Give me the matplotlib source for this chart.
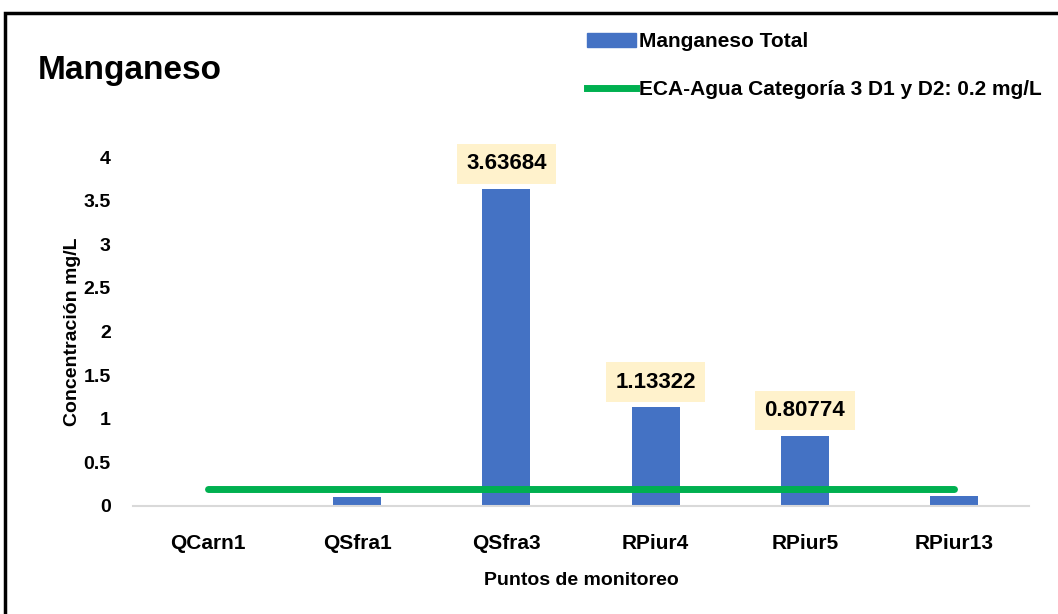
import matplotlib.pyplot as plt
import matplotlib.patches as mpatches
from matplotlib.lines import Line2D

# datos
puntos = ['QCarn1', 'QSfra1', 'QSfra3', 'RPiur4', 'RPiur5', 'RPiur13']
manganeso = [0.0, 0.10, 3.63684, 1.13322, 0.80774, 0.11]
etiquetas = ['', '', '3.63684', '1.13322', '0.80774', '']
eca = [0.2, 0.2, 0.2, 0.2, 0.2, 0.2]

FONT = ['Liberation Sans Narrow', 'Liberation Sans', 'DejaVu Sans']
plt.rcParams['font.family'] = FONT
plt.rcParams['font.weight'] = 'bold'

W, H = 1058, 614
fig = plt.figure(figsize=(W / 100, H / 100), dpi=100)
ax = fig.add_axes([133 / W, 1 - 506 / H, (1029 - 133) / W, (506 - 157) / H])

x = list(range(len(puntos)))
ax.bar(x, manganeso, width=0.32, color='#4472C4', zorder=2)
ax.plot(x, eca, color='#00B050', lw=5, solid_capstyle='round', zorder=3)

for xi, v, t in zip(x, manganeso, etiquetas):
    if t:
        ax.annotate(t, (xi, v), xytext=(0, 25), textcoords='offset pixels',
                    ha='center', va='center', fontsize=16, fontweight='bold',
                    bbox=dict(boxstyle='square,pad=0.42', fc='#FFF2CC', ec='none'),
                    annotation_clip=False)

ax.set_xlim(-0.5, len(puntos) - 0.5)
ax.set_ylim(0, 4)
ax.set_yticks([0, 0.5, 1, 1.5, 2, 2.5, 3, 3.5, 4])
ax.set_yticklabels(['0', '0.5', '1', '1.5', '2', '2.5', '3', '3.5', '4'])
ax.set_xticks(x)
ax.set_xticklabels(puntos)
ax.tick_params(axis='x', length=0, labelsize=15, pad=20)
ax.tick_params(axis='y', length=0, labelsize=14, pad=16)
for s in ['top', 'right', 'left']:
    ax.spines[s].set_visible(False)
ax.spines['bottom'].set_color('#D9D9D9')
ax.spines['bottom'].set_linewidth(1.5)

ax.set_xlabel('Puntos de monitoreo', fontsize=14, fontweight='bold', labelpad=14)
ax.set_ylabel('Concentración mg/L', fontsize=14, fontweight='bold', labelpad=2)

fig.text(38 / W, 1 - 70 / H, 'Manganeso', fontsize=24, fontweight='bold', va='center', ha='left')

handles = [mpatches.Patch(color='#4472C4'), Line2D([], [], color='#00B050', lw=5)]
fig.legend(handles, ['Manganeso Total', 'ECA-Agua Categoría 3 D1 y D2: 0.2 mg/L'],
           loc='upper left', bbox_to_anchor=(587 / W, 1 - 32 / H), frameon=False,
           fontsize=15, handlelength=2.35, handleheight=0.65, handletextpad=0.15,
           labelspacing=1.4, borderaxespad=0, borderpad=0)

# marco del grafico
fig.patches.append(mpatches.Rectangle((5 / W, -0.1), 1.2, 1.1 - 13 / H, transform=fig.transFigure,
                                      fill=False, ec='black', lw=2.5))

fig.savefig('out.png', dpi=100)
